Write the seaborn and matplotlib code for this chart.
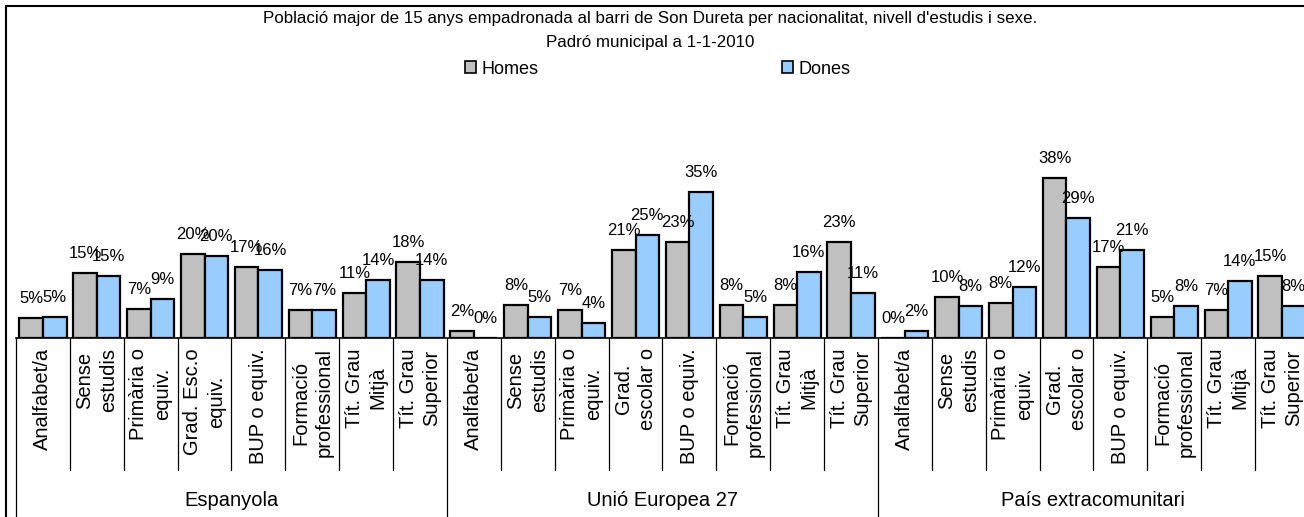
import numpy as np
import pandas as pd
import matplotlib
matplotlib.use("Agg")
import matplotlib.pyplot as plt
import seaborn as sns
from matplotlib.lines import Line2D
from matplotlib.patches import Patch
from matplotlib.transforms import blended_transform_factory

# ---------------- data ----------------
nationalities = ["Espanyola", "Unió Europea 27", "País extracomunitari"]
levels_esp = ["Analfabet/a", "Sense\nestudis", "Primària o\nequiv.", "Grad. Esc.o\nequiv.",
              "BUP o equiv.", "Formació\nprofessional", "Tít. Grau\nMitjà", "Tít. Grau\nSuperior"]
levels_other = ["Analfabet/a", "Sense\nestudis", "Primària o\nequiv.", "Grad.\nescolar o",
                "BUP o equiv.", "Formació\nprofessional", "Tít. Grau\nMitjà", "Tít. Grau\nSuperior"]
homes_esp = [4.8, 15.4, 6.9, 20.1, 16.8, 6.6, 10.8, 18.1]
dones_esp = [5.0, 14.8, 9.2, 19.6, 16.3, 6.6, 13.9, 13.9]
homes_ue = [1.6, 7.9, 6.6, 21.0, 22.8, 7.9, 7.9, 22.8]
dones_ue = [0.0, 5.1, 3.6, 24.6, 34.8, 5.1, 15.8, 10.6]
homes_ext = [0.0, 9.8, 8.4, 38.0, 16.8, 5.1, 6.6, 14.8]
dones_ext = [1.6, 7.6, 12.1, 28.6, 21.0, 7.6, 13.6, 7.6]
sexes = ["Homes", "Dones"]

title_1 = "Població major de 15 anys empadronada al barri de Son Dureta per nacionalitat, nivell d'estudis i sexe."
title_2 = "Padró municipal a 1-1-2010"

# ---------------- build long table ----------------
cat_labels = levels_esp + levels_other + levels_other
homes = homes_esp + homes_ue + homes_ext
dones = dones_esp + dones_ue + dones_ext
n = len(cat_labels)
pos = [f"c{i:02d}" for i in range(n)]
df = pd.DataFrame({
    "pos": pos * 2,
    "sex": ["Homes"] * n + ["Dones"] * n,
    "value": homes + dones,
})

# ---------------- figure ----------------
W, H = 1304, 517
sns.set_style("white")
plt.rcParams["font.family"] = ["Liberation Sans", "DejaVu Sans"]
plt.rcParams["text.color"] = "black"
fig = plt.figure(figsize=(W / 100, H / 100), dpi=100)

unit = 53.87
base_y = 338
ymax = 45
px_per = 4.2
ax = fig.add_axes([16 / W, (H - base_y) / H, n * unit / W, ymax * px_per / H])

palette = {"Homes": "#C0C0C0", "Dones": "#99CCFF"}
sns.barplot(data=df, x="pos", y="value", hue="sex", order=pos, hue_order=sexes,
            palette=palette, width=0.875, edgecolor="black", linewidth=1.6,
            errorbar=None, legend=False, ax=ax, saturation=1)
ax.set_xlim(-0.5, n - 0.5)
ax.set_ylim(0, ymax)
for s in ["left", "right", "top"]:
    ax.spines[s].set_visible(False)
ax.spines["bottom"].set_color("black")
ax.spines["bottom"].set_linewidth(1.2)
ax.set_xticks([])
ax.set_yticks([])
ax.set_xlabel("")
ax.set_ylabel("")
ax.patch.set_alpha(0)

# value labels
for cont in ax.containers:
    for rect in cont:
        h = rect.get_height()
        ax.annotate(f"{h:.0f}%", (rect.get_x() + rect.get_width() / 2, h),
                    xytext=(0, 15), textcoords="offset pixels",
                    ha="center", va="baseline", fontsize=12, clip_on=False)

# separators and category labels
tr = blended_transform_factory(ax.transData, fig.transFigure)
for k in range(n + 1):
    xk = k - 0.5
    ybot = 0 if k % 8 == 0 else (H - 470) / H
    ax.add_line(Line2D([xk, xk], [(H - base_y) / H, ybot], transform=tr,
                       color="black", lw=0.9, clip_on=False))
for k, lab in enumerate(cat_labels):
    ax.text(k, (H - 348) / H, lab, transform=tr, rotation=90, ha="center", va="top",
            multialignment="center", fontsize=14.5, linespacing=1.3)
for g, nat in enumerate(nationalities):
    ax.text(g * 8 + 3.5, (H - 501) / H, nat, transform=tr, ha="center", va="center",
            fontsize=14.5)

# outer frame (left & top)
fig.add_artist(Line2D([6 / W, 6 / W], [0, 1 - 6 / H], color="black", lw=1.5))
fig.add_artist(Line2D([6 / W, 1], [1 - 6 / H, 1 - 6 / H], color="black", lw=1.5))

# titles
fig.text(650 / W, 1 - 18 / H, title_1, ha="center", va="center", fontsize=12.2)
fig.text(650 / W, 1 - 43 / H, title_2, ha="center", va="center", fontsize=12.2)

# legend
handles = [Patch(facecolor=palette[s], edgecolor="black", lw=1.2) for s in sexes]
fig.legend(handles, sexes, loc="center", bbox_to_anchor=(658 / W, 1 - 69 / H), ncol=2,
           frameon=False, fontsize=13, handlelength=0.6, handleheight=0.6,
           handletextpad=0.3, columnspacing=13.5, borderpad=0)

fig.savefig("out.png", dpi=100)
